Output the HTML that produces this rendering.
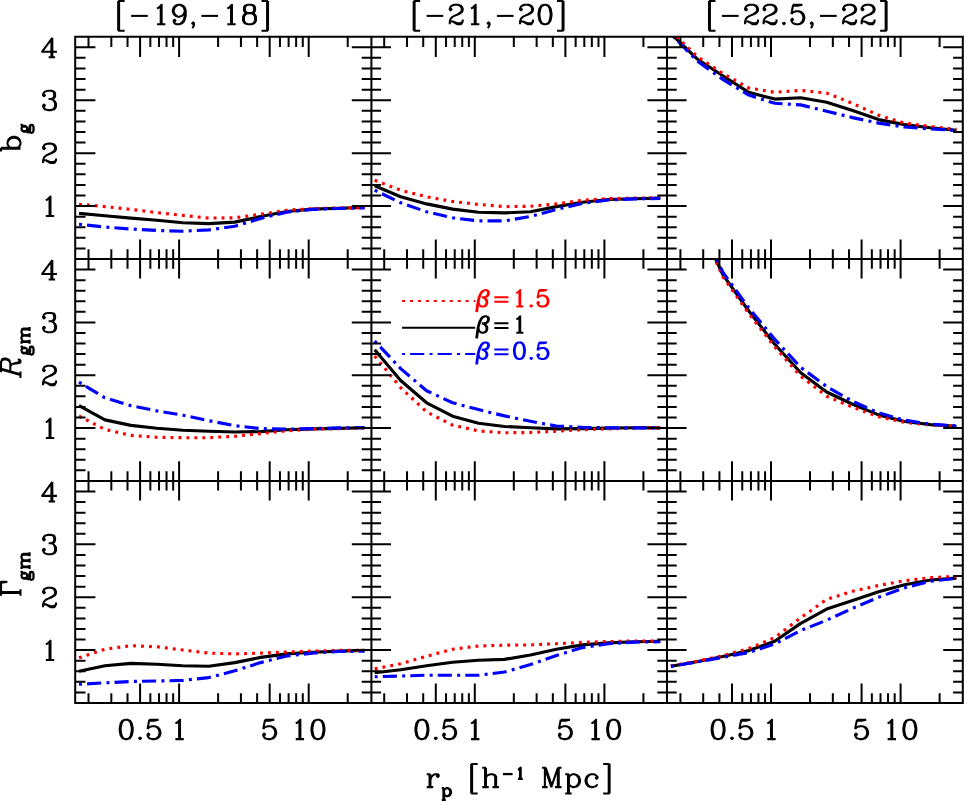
<!DOCTYPE html>
<html><head><meta charset="utf-8"><title>plot</title>
<style>html,body{margin:0;padding:0;background:#fff;font-family:"Liberation Sans",sans-serif}svg{display:block}</style>
</head><body>
<svg width="964" height="801" viewBox="0 0 964 801">
<rect width="964" height="801" fill="#fff"/>
<defs>
<path id="h2013" d="M-7 -12L-7 9M-6 -12L0 6M-7 -12L0 9M7 -12L0 9M7 -12L7 9M8 -12L8 9M-10 -12L-6 -12M7 -12L11 -12M-10 9L-4 9M4 9L11 9"/>
<path id="h2029" d="M-4 -12L-4 9M-3 -12L-3 9M-7 -12L8 -12L8 -6L7 -12M-7 9L0 9"/>
<path id="h2068" d="M-3 -12L-9 9M-2 -12L-8 9M-6 -12L5 -12L8 -11L9 -9L9 -7L8 -4L7 -3L4 -2L-5 -2M5 -12L7 -11L8 -9L8 -7L7 -4L6 -3L4 -2M0 -2L2 -1L3 0L4 8L5 9L7 9L8 7L8 6M3 0L5 7L6 8L7 8L8 7M-12 9L-5 9"/>
<path id="h2102" d="M-6 -12L-6 9M-5 -12L-5 9M-5 -2L-3 -4L-1 -5L1 -5L4 -4L6 -2L7 1L7 3L6 6L4 8L1 9L-1 9L-3 8L-5 6M1 -5L3 -4L5 -2L6 1L6 3L5 6L3 8L1 9M-9 -12L-5 -12"/>
<path id="h2103" d="M5 -2L4 -1L5 0L6 -1L6 -2L4 -4L2 -5L-1 -5L-4 -4L-6 -2L-7 1L-7 3L-6 6L-4 8L-1 9L1 9L4 8L6 6M-1 -5L-3 -4L-5 -2L-6 1L-6 3L-5 6L-3 8L-1 9"/>
<path id="h2107" d="M-1 -5L-3 -4L-4 -3L-5 -1L-5 1L-4 3L-3 4L-1 5L1 5L3 4L4 3L5 1L5 -1L4 -3L3 -4L1 -5L-1 -5M-3 -4L-4 -2L-4 2L-3 4M3 4L4 2L4 -2L3 -4M4 -3L5 -4L7 -5L7 -4L5 -4M-4 3L-5 4L-6 6L-6 7L-5 9L-2 10L3 10L6 11L7 12M-6 7L-5 8L-2 9L3 9L6 10L7 12L7 13L6 15L3 16L-3 16L-6 15L-7 13L-7 12L-6 10L-3 9"/>
<path id="h2108" d="M-6 -12L-6 9M-5 -12L-5 9M-5 -2L-3 -4L0 -5L2 -5L5 -4L6 -2L6 9M2 -5L4 -4L5 -2L5 9M-9 -12L-5 -12M-9 9L-2 9M2 9L9 9"/>
<path id="h2113" d="M-11 -5L-11 9M-10 -5L-10 9M-10 -2L-8 -4L-5 -5L-3 -5L0 -4L1 -2L1 9M-3 -5L-1 -4L0 -2L0 9M1 -2L3 -4L6 -5L8 -5L11 -4L12 -2L12 9M8 -5L10 -4L11 -2L11 9M-14 -5L-10 -5M-14 9L-7 9M-3 9L4 9M8 9L15 9"/>
<path id="h2116" d="M-6 -5L-6 16M-5 -5L-5 16M-5 -2L-3 -4L-1 -5L1 -5L4 -4L6 -2L7 1L7 3L6 6L4 8L1 9L-1 9L-3 8L-5 6M1 -5L3 -4L5 -2L6 1L6 3L5 6L3 8L1 9M-9 -5L-5 -5M-9 16L-2 16"/>
<path id="h2118" d="M-4 -5L-4 9M-3 -5L-3 9M-3 1L-2 -2L0 -4L2 -5L5 -5L6 -4L6 -3L5 -2L4 -3L5 -4M-7 -5L-3 -5M-7 9L0 9"/>
<path id="h2128" d="M2 -12L-1 -11L-3 -9L-5 -5L-6 -2L-7 2L-8 8L-9 16M2 -12L0 -11L-2 -9L-4 -5L-5 -2L-6 2L-7 8L-8 16M2 -12L4 -12L6 -11L7 -10L7 -7L6 -5L5 -4L2 -3L-2 -3M4 -12L6 -10L6 -7L5 -5L4 -4L2 -3M-2 -3L2 -2L4 0L5 2L5 5L4 7L3 8L0 9L-2 9L-4 8L-5 7L-6 4M-2 -3L1 -2L3 0L4 2L4 5L3 7L2 8L0 9"/>
<path id="h2200" d="M-1 -12L-4 -11L-6 -8L-7 -3L-7 0L-6 5L-4 8L-1 9L1 9L4 8L6 5L7 0L7 -3L6 -8L4 -11L1 -12L-1 -12M-1 -12L-3 -11L-4 -10L-5 -8L-6 -3L-6 0L-5 5L-4 7L-3 8L-1 9M1 9L3 8L4 7L5 5L6 0L6 -3L5 -8L4 -10L3 -11L1 -12"/>
<path id="h2201" d="M-4 -8L-2 -9L1 -12L1 9M0 -11L0 9M-4 9L5 9"/>
<path id="h2202" d="M-6 -8L-5 -7L-6 -6L-7 -7L-7 -8L-6 -10L-5 -11L-2 -12L2 -12L5 -11L6 -10L7 -8L7 -6L6 -4L3 -2L-2 0L-4 1L-6 3L-7 6L-7 9M2 -12L4 -11L5 -10L6 -8L6 -6L5 -4L2 -2L-2 0M-7 7L-6 6L-4 6L1 8L4 8L6 7L7 6M-4 6L1 9L5 9L6 8L7 6L7 4"/>
<path id="h2203" d="M-6 -8L-5 -7L-6 -6L-7 -7L-7 -8L-6 -10L-5 -11L-2 -12L2 -12L5 -11L6 -9L6 -6L5 -4L2 -3L-1 -3M2 -12L4 -11L5 -9L5 -6L4 -4L2 -3M2 -3L4 -2L6 0L7 2L7 5L6 7L5 8L2 9L-2 9L-5 8L-6 7L-7 5L-7 4L-6 3L-5 4L-6 5M5 -1L6 2L6 5L5 7L4 8L2 9"/>
<path id="h2204" d="M2 -10L2 9M3 -12L3 9M3 -12L-8 3L8 3M-1 9L6 9"/>
<path id="h2205" d="M-5 -12L-7 -2M-7 -2L-5 -4L-2 -5L1 -5L4 -4L6 -2L7 1L7 3L6 6L4 8L1 9L-2 9L-5 8L-6 7L-7 5L-7 4L-6 3L-5 4L-6 5M1 -5L3 -4L5 -2L6 1L6 3L5 6L3 8L1 9M-5 -12L5 -12M-5 -11L0 -11L5 -12"/>
<path id="h2208" d="M-2 -12L-5 -11L-6 -9L-6 -6L-5 -4L-2 -3L2 -3L5 -4L6 -6L6 -9L5 -11L2 -12L-2 -12M-2 -12L-4 -11L-5 -9L-5 -6L-4 -4L-2 -3M2 -3L4 -4L5 -6L5 -9L4 -11L2 -12M-2 -3L-5 -2L-6 -1L-7 1L-7 5L-6 7L-5 8L-2 9L2 9L5 8L6 7L7 5L7 1L6 -1L5 -2L2 -3M-2 -3L-4 -2L-5 -1L-6 1L-6 5L-5 7L-4 8L-2 9M2 9L4 8L5 7L6 5L6 1L5 -1L4 -2L2 -3"/>
<path id="h2209" d="M6 -5L5 -2L3 0L0 1L-1 1L-4 0L-6 -2L-7 -5L-7 -6L-6 -9L-4 -11L-1 -12L1 -12L4 -11L6 -9L7 -6L7 0L6 4L5 6L3 8L0 9L-3 9L-5 8L-6 6L-6 5L-5 4L-4 5L-5 6M-1 1L-3 0L-5 -2L-6 -5L-6 -6L-5 -9L-3 -11L-1 -12M1 -12L3 -11L5 -9L6 -6L6 0L5 4L4 6L2 8L0 9"/>
<path id="h2210" d="M0 7L-1 8L0 9L1 8L0 7"/>
<path id="h2211" d="M0 9L-1 8L0 7L1 8L1 10L0 12L-1 13"/>
<path id="h2223" d="M-3 -16L-3 16M-2 -16L-2 16M-3 -16L4 -16M-3 16L4 16"/>
<path id="h2224" d="M2 -16L2 16M3 -16L3 16M-4 -16L3 -16M-4 16L3 16"/>
<path id="h2231" d="M-9 0L9 0"/>
<path id="h2238" d="M-9 -3L9 -3M-9 3L9 3"/>
<clipPath id="c00"><rect x="75.2" y="36.7" width="296.2" height="222.3"/></clipPath>
<clipPath id="c01"><rect x="371.4" y="36.7" width="295.6" height="222.3"/></clipPath>
<clipPath id="c02"><rect x="667" y="36.7" width="295.8" height="222.3"/></clipPath>
<clipPath id="c10"><rect x="75.2" y="259" width="296.2" height="221.9"/></clipPath>
<clipPath id="c11"><rect x="371.4" y="259" width="295.6" height="221.9"/></clipPath>
<clipPath id="c12"><rect x="667" y="259" width="295.8" height="221.9"/></clipPath>
<clipPath id="c20"><rect x="75.2" y="480.9" width="296.2" height="222.1"/></clipPath>
<clipPath id="c21"><rect x="371.4" y="480.9" width="295.6" height="222.1"/></clipPath>
<clipPath id="c22"><rect x="667" y="480.9" width="295.8" height="222.1"/></clipPath>
</defs>
<g fill="none" stroke-width="3.15" stroke-linejoin="round" stroke-linecap="butt">
<g clip-path="url(#c00)"><polyline points="79,213.4 104.96,215.7 130.92,218.1 156.88,220.3 182.84,222.8 208.8,223.6 234.76,222.1 260.72,216.5 286.68,211.5 312.64,209.1 338.6,208.2 364.56,207.5" stroke="#000"/><polyline points="79,204.2 104.96,206.6 130.92,209.4 156.88,212.6 182.84,215.4 208.8,218.1 234.76,217.8 260.72,214.2 286.68,210.2 312.64,208.7 338.6,208 364.56,207.5" stroke="#f00" stroke-dasharray="2.9 5.06"/><polyline points="79,224.2 104.96,227 130.92,229 156.88,230.5 182.84,231.2 208.8,229.9 234.76,226.3 260.72,218.4 286.68,212.1 312.64,209.4 338.6,208.5 364.56,207.9" stroke="#00f" stroke-dasharray="3 5.1 14.1 5.3"/></g>
<g clip-path="url(#c01)"><polyline points="374.7,185.8 400.66,196.8 426.62,203.9 452.58,209.1 478.54,212.3 504.5,212.9 530.46,211.8 556.42,206.6 582.38,202.3 608.34,199.5 634.3,198.7 660.26,198.1" stroke="#000"/><polyline points="374.7,180.2 400.66,190.2 426.62,196.8 452.58,201.5 478.54,204.4 504.5,206.6 530.46,206.3 556.42,203.9 582.38,200.3 608.34,198.7 634.3,198.1 660.26,197.8" stroke="#f00" stroke-dasharray="2.9 5.06"/><polyline points="374.7,190.2 400.66,202.8 426.62,211.8 452.58,217.8 478.54,220.9 504.5,220.9 530.46,216.5 556.42,209.4 582.38,203.4 608.34,200 634.3,198.9 660.26,198.4" stroke="#00f" stroke-dasharray="3 5.1 14.1 5.3"/></g>
<g clip-path="url(#c02)"><polyline points="670.9,33.6 696.86,58.7 722.82,75.7 748.78,92.3 774.74,99.1 800.7,97.8 826.66,102.3 852.62,110.5 878.58,119.6 904.54,124.6 930.5,127.8 956.46,130.2" stroke="#000"/><polyline points="670.9,31 696.86,56.3 722.82,73.5 748.78,88 774.74,92.3 800.7,90.4 826.66,93.1 852.62,103.4 878.58,115.2 904.54,123.1 930.5,126.5 956.46,129.4" stroke="#f00" stroke-dasharray="2.9 5.06"/><polyline points="670.9,33.9 696.86,60.7 722.82,79.4 748.78,95.1 774.74,103.3 800.7,104.9 826.66,111.2 852.62,117.6 878.58,123.1 904.54,127 930.5,128.9 956.46,130.5" stroke="#00f" stroke-dasharray="3 5.1 14.1 5.3" stroke-dashoffset="-2.5"/></g>
<g clip-path="url(#c10)"><polyline points="79,405.7 104.96,419.9 130.92,425.4 156.88,428.3 182.84,430.2 208.8,431.3 234.76,432 260.72,431.6 286.68,429.7 312.64,428.9 338.6,428.4 364.56,427.8" stroke="#000"/><polyline points="79,416 104.96,429.4 130.92,435.4 156.88,437.3 182.84,437.7 208.8,437.7 234.76,436.3 260.72,433.6 286.68,430.8 312.64,429.2 338.6,428.6 364.56,427.9" stroke="#f00" stroke-dasharray="2.9 5.06"/><polyline points="79,382.1 104.96,397.8 130.92,405.7 156.88,410.9 182.84,415.2 208.8,420.7 234.76,425.7 260.72,428.6 286.68,429.2 312.64,428.6 338.6,427.9 364.56,427.6" stroke="#00f" stroke-dasharray="3 5.1 14.1 5.3"/></g>
<g clip-path="url(#c11)"><polyline points="374.7,349.7 400.66,380.5 426.62,402.8 452.58,416.2 478.54,423.3 504.5,426.5 530.46,427.8 556.42,428.9 582.38,428.6 608.34,428.1 634.3,427.8 660.26,427.8" stroke="#000"/><polyline points="374.7,356 400.66,387.6 426.62,412 452.58,425.1 478.54,430.9 504.5,432.8 530.46,432.5 556.42,431.2 582.38,429.7 608.34,428.9 634.3,428.1 660.26,427.8" stroke="#f00" stroke-dasharray="2.9 5.06"/><polyline points="374.7,341 400.66,368.6 426.62,390.7 452.58,402.8 478.54,409.6 504.5,415.9 530.46,421.3 556.42,426 582.38,427.3 608.34,427.8 634.3,427.8 660.26,427.8" stroke="#00f" stroke-dasharray="3 5.1 14.1 5.3"/></g>
<g clip-path="url(#c12)"><polyline points="670.9,160 696.86,218.2 722.82,274.7 748.78,311 774.74,344.3 800.7,372.8 826.66,392 852.62,404.2 878.58,414.9 904.54,421.5 930.5,424.6 956.46,426.2" stroke="#000"/><polyline points="670.9,160 696.86,219.2 722.82,276.7 748.78,313.5 774.74,346.8 800.7,376.2 826.66,396.2 852.62,407.3 878.58,416.8 904.54,422.3 930.5,425 956.46,426.2" stroke="#f00" stroke-dasharray="2.9 5.06"/><polyline points="670.9,160 696.86,216.2 722.82,272.2 748.78,307.9 774.74,339.3 800.7,367.4 826.66,386.5 852.62,401.3 878.58,412.8 904.54,420.2 930.5,424.2 956.46,425.9" stroke="#00f" stroke-dasharray="3 5.1 14.1 5.3"/></g>
<g clip-path="url(#c20)"><polyline points="79,671.2 104.96,665.7 130.92,663.4 156.88,664.2 182.84,665.7 208.8,666.2 234.76,662.6 260.72,657.4 286.68,653.9 312.64,652.3 338.6,651.1 364.56,650.4" stroke="#000"/><polyline points="79,657.8 104.96,649.2 130.92,645.7 156.88,646.8 182.84,650 208.8,653.1 234.76,653.9 260.72,653.1 286.68,652 312.64,651.1 338.6,650.4 364.56,650.4" stroke="#f00" stroke-dasharray="2.9 5.06"/><polyline points="79,684.3 104.96,682.8 130.92,681.5 156.88,681 182.84,680.4 208.8,677.6 234.76,670.8 260.72,662.6 286.68,656 312.64,653.1 338.6,651.5 364.56,651.1" stroke="#00f" stroke-dasharray="3 5.1 14.1 5.3"/></g>
<g clip-path="url(#c21)"><polyline points="374.7,672.8 400.66,669.7 426.62,665.7 452.58,662.3 478.54,660.2 504.5,659.4 530.46,655 556.42,649.2 582.38,644.9 608.34,642.9 634.3,641.8 660.26,641.3" stroke="#000"/><polyline points="374.7,668.9 400.66,663.8 426.62,656.3 452.58,649.2 478.54,646 504.5,645.2 530.46,644.9 556.42,643.7 582.38,642.4 608.34,641.6 634.3,641 660.26,641" stroke="#f00" stroke-dasharray="2.9 5.06"/><polyline points="374.7,676.8 400.66,676 426.62,675.2 452.58,675.2 478.54,675.2 504.5,672 530.46,664.6 556.42,655.5 582.38,647.6 608.34,643.7 634.3,642.1 660.26,641.8" stroke="#00f" stroke-dasharray="3 5.1 14.1 5.3"/></g>
<g clip-path="url(#c22)"><polyline points="670.9,666.3 696.86,661.7 722.82,656.5 748.78,650.6 774.74,641.2 800.7,623.4 826.66,609.1 852.62,600.5 878.58,591.8 904.54,584.7 930.5,580 956.46,578.1" stroke="#000"/><polyline points="670.9,665.9 696.86,661.2 722.82,655.7 748.78,648.6 774.74,637.6 800.7,617.8 826.66,599.4 852.62,591.3 878.58,585.5 904.54,580.7 930.5,577.6 956.46,576.5" stroke="#f00" stroke-dasharray="2.9 5.06"/><polyline points="670.9,666.4 696.86,662 722.82,657.3 748.78,652.5 774.74,643.9 800.7,630.5 826.66,620.2 852.62,608.3 878.58,597.3 904.54,587.8 930.5,581.2 956.46,578.4" stroke="#00f" stroke-dasharray="3 5.1 14.1 5.3"/></g>
</g>
<path d="M75.2 248.41h10.3M371.4 248.41h-9.7M75.2 237.83h10.3M371.4 237.83h-9.7M75.2 227.24h10.3M371.4 227.24h-9.7M75.2 216.66h10.3M371.4 216.66h-9.7M75.2 206.07h20.2M371.4 206.07h-19.6M75.2 195.49h10.3M371.4 195.49h-9.7M75.2 184.9h10.3M371.4 184.9h-9.7M75.2 174.31h10.3M371.4 174.31h-9.7M75.2 163.73h10.3M371.4 163.73h-9.7M75.2 153.14h20.2M371.4 153.14h-19.6M75.2 142.56h10.3M371.4 142.56h-9.7M75.2 131.97h10.3M371.4 131.97h-9.7M75.2 121.39h10.3M371.4 121.39h-9.7M75.2 110.8h10.3M371.4 110.8h-9.7M75.2 100.21h20.2M371.4 100.21h-19.6M75.2 89.63h10.3M371.4 89.63h-9.7M75.2 79.04h10.3M371.4 79.04h-9.7M75.2 68.46h10.3M371.4 68.46h-9.7M75.2 57.87h10.3M371.4 57.87h-9.7M75.2 47.29h20.2M371.4 47.29h-19.6M88.51 36.7v10.3M88.51 259v-9.7M111.33 36.7v10.3M111.33 259v-9.7M127.53 36.7v10.3M127.53 259v-9.7M140.09 36.7v20.2M140.09 259v-19.6M150.35 36.7v10.3M150.35 259v-9.7M159.02 36.7v10.3M159.02 259v-9.7M166.54 36.7v10.3M166.54 259v-9.7M173.17 36.7v10.3M173.17 259v-9.7M179.1 36.7v20.2M179.1 259v-19.6M218.11 36.7v10.3M218.11 259v-9.7M240.93 36.7v10.3M240.93 259v-9.7M257.13 36.7v10.3M257.13 259v-9.7M269.69 36.7v20.2M269.69 259v-19.6M279.95 36.7v10.3M279.95 259v-9.7M288.62 36.7v10.3M288.62 259v-9.7M296.14 36.7v10.3M296.14 259v-9.7M302.77 36.7v10.3M302.77 259v-9.7M308.7 36.7v20.2M308.7 259v-19.6M347.71 36.7v10.3M347.71 259v-9.7M371.4 248.41h9.7M667 248.41h-9.7M371.4 237.83h9.7M667 237.83h-9.7M371.4 227.24h9.7M667 227.24h-9.7M371.4 216.66h9.7M667 216.66h-9.7M371.4 206.07h19.6M667 206.07h-19.6M371.4 195.49h9.7M667 195.49h-9.7M371.4 184.9h9.7M667 184.9h-9.7M371.4 174.31h9.7M667 174.31h-9.7M371.4 163.73h9.7M667 163.73h-9.7M371.4 153.14h19.6M667 153.14h-19.6M371.4 142.56h9.7M667 142.56h-9.7M371.4 131.97h9.7M667 131.97h-9.7M371.4 121.39h9.7M667 121.39h-9.7M371.4 110.8h9.7M667 110.8h-9.7M371.4 100.21h19.6M667 100.21h-19.6M371.4 89.63h9.7M667 89.63h-9.7M371.4 79.04h9.7M667 79.04h-9.7M371.4 68.46h9.7M667 68.46h-9.7M371.4 57.87h9.7M667 57.87h-9.7M371.4 47.29h19.6M667 47.29h-19.6M384.21 36.7v10.3M384.21 259v-9.7M407.03 36.7v10.3M407.03 259v-9.7M423.23 36.7v10.3M423.23 259v-9.7M435.79 36.7v20.2M435.79 259v-19.6M446.05 36.7v10.3M446.05 259v-9.7M454.72 36.7v10.3M454.72 259v-9.7M462.24 36.7v10.3M462.24 259v-9.7M468.87 36.7v10.3M468.87 259v-9.7M474.8 36.7v20.2M474.8 259v-19.6M513.81 36.7v10.3M513.81 259v-9.7M536.63 36.7v10.3M536.63 259v-9.7M552.83 36.7v10.3M552.83 259v-9.7M565.39 36.7v20.2M565.39 259v-19.6M575.65 36.7v10.3M575.65 259v-9.7M584.32 36.7v10.3M584.32 259v-9.7M591.84 36.7v10.3M591.84 259v-9.7M598.47 36.7v10.3M598.47 259v-9.7M604.4 36.7v20.2M604.4 259v-19.6M643.41 36.7v10.3M643.41 259v-9.7M667 248.41h9.7M962.8 248.41h-9.7M667 237.83h9.7M962.8 237.83h-9.7M667 227.24h9.7M962.8 227.24h-9.7M667 216.66h9.7M962.8 216.66h-9.7M667 206.07h19.6M962.8 206.07h-19.6M667 195.49h9.7M962.8 195.49h-9.7M667 184.9h9.7M962.8 184.9h-9.7M667 174.31h9.7M962.8 174.31h-9.7M667 163.73h9.7M962.8 163.73h-9.7M667 153.14h19.6M962.8 153.14h-19.6M667 142.56h9.7M962.8 142.56h-9.7M667 131.97h9.7M962.8 131.97h-9.7M667 121.39h9.7M962.8 121.39h-9.7M667 110.8h9.7M962.8 110.8h-9.7M667 100.21h19.6M962.8 100.21h-19.6M667 89.63h9.7M962.8 89.63h-9.7M667 79.04h9.7M962.8 79.04h-9.7M667 68.46h9.7M962.8 68.46h-9.7M667 57.87h9.7M962.8 57.87h-9.7M667 47.29h19.6M962.8 47.29h-19.6M680.41 36.7v10.3M680.41 259v-9.7M703.23 36.7v10.3M703.23 259v-9.7M719.43 36.7v10.3M719.43 259v-9.7M731.99 36.7v20.2M731.99 259v-19.6M742.25 36.7v10.3M742.25 259v-9.7M750.92 36.7v10.3M750.92 259v-9.7M758.44 36.7v10.3M758.44 259v-9.7M765.07 36.7v10.3M765.07 259v-9.7M771 36.7v20.2M771 259v-19.6M810.01 36.7v10.3M810.01 259v-9.7M832.83 36.7v10.3M832.83 259v-9.7M849.03 36.7v10.3M849.03 259v-9.7M861.59 36.7v20.2M861.59 259v-19.6M871.85 36.7v10.3M871.85 259v-9.7M880.52 36.7v10.3M880.52 259v-9.7M888.04 36.7v10.3M888.04 259v-9.7M894.67 36.7v10.3M894.67 259v-9.7M900.6 36.7v20.2M900.6 259v-19.6M939.61 36.7v10.3M939.61 259v-9.7M75.2 470.33h10.3M371.4 470.33h-9.7M75.2 459.77h10.3M371.4 459.77h-9.7M75.2 449.2h10.3M371.4 449.2h-9.7M75.2 438.63h10.3M371.4 438.63h-9.7M75.2 428.07h20.2M371.4 428.07h-19.6M75.2 417.5h10.3M371.4 417.5h-9.7M75.2 406.93h10.3M371.4 406.93h-9.7M75.2 396.37h10.3M371.4 396.37h-9.7M75.2 385.8h10.3M371.4 385.8h-9.7M75.2 375.23h20.2M371.4 375.23h-19.6M75.2 364.67h10.3M371.4 364.67h-9.7M75.2 354.1h10.3M371.4 354.1h-9.7M75.2 343.53h10.3M371.4 343.53h-9.7M75.2 332.97h10.3M371.4 332.97h-9.7M75.2 322.4h20.2M371.4 322.4h-19.6M75.2 311.83h10.3M371.4 311.83h-9.7M75.2 301.27h10.3M371.4 301.27h-9.7M75.2 290.7h10.3M371.4 290.7h-9.7M75.2 280.13h10.3M371.4 280.13h-9.7M75.2 269.57h20.2M371.4 269.57h-19.6M88.51 259v9.7M88.51 480.9v-9.7M111.33 259v9.7M111.33 480.9v-9.7M127.53 259v9.7M127.53 480.9v-9.7M140.09 259v19.6M140.09 480.9v-19.6M150.35 259v9.7M150.35 480.9v-9.7M159.02 259v9.7M159.02 480.9v-9.7M166.54 259v9.7M166.54 480.9v-9.7M173.17 259v9.7M173.17 480.9v-9.7M179.1 259v19.6M179.1 480.9v-19.6M218.11 259v9.7M218.11 480.9v-9.7M240.93 259v9.7M240.93 480.9v-9.7M257.13 259v9.7M257.13 480.9v-9.7M269.69 259v19.6M269.69 480.9v-19.6M279.95 259v9.7M279.95 480.9v-9.7M288.62 259v9.7M288.62 480.9v-9.7M296.14 259v9.7M296.14 480.9v-9.7M302.77 259v9.7M302.77 480.9v-9.7M308.7 259v19.6M308.7 480.9v-19.6M347.71 259v9.7M347.71 480.9v-9.7M371.4 470.33h9.7M667 470.33h-9.7M371.4 459.77h9.7M667 459.77h-9.7M371.4 449.2h9.7M667 449.2h-9.7M371.4 438.63h9.7M667 438.63h-9.7M371.4 428.07h19.6M667 428.07h-19.6M371.4 417.5h9.7M667 417.5h-9.7M371.4 406.93h9.7M667 406.93h-9.7M371.4 396.37h9.7M667 396.37h-9.7M371.4 385.8h9.7M667 385.8h-9.7M371.4 375.23h19.6M667 375.23h-19.6M371.4 364.67h9.7M667 364.67h-9.7M371.4 354.1h9.7M667 354.1h-9.7M371.4 343.53h9.7M667 343.53h-9.7M371.4 332.97h9.7M667 332.97h-9.7M371.4 322.4h19.6M667 322.4h-19.6M371.4 311.83h9.7M667 311.83h-9.7M371.4 301.27h9.7M667 301.27h-9.7M371.4 290.7h9.7M667 290.7h-9.7M371.4 280.13h9.7M667 280.13h-9.7M371.4 269.57h19.6M667 269.57h-19.6M384.21 259v9.7M384.21 480.9v-9.7M407.03 259v9.7M407.03 480.9v-9.7M423.23 259v9.7M423.23 480.9v-9.7M435.79 259v19.6M435.79 480.9v-19.6M446.05 259v9.7M446.05 480.9v-9.7M454.72 259v9.7M454.72 480.9v-9.7M462.24 259v9.7M462.24 480.9v-9.7M468.87 259v9.7M468.87 480.9v-9.7M474.8 259v19.6M474.8 480.9v-19.6M513.81 259v9.7M513.81 480.9v-9.7M536.63 259v9.7M536.63 480.9v-9.7M552.83 259v9.7M552.83 480.9v-9.7M565.39 259v19.6M565.39 480.9v-19.6M575.65 259v9.7M575.65 480.9v-9.7M584.32 259v9.7M584.32 480.9v-9.7M591.84 259v9.7M591.84 480.9v-9.7M598.47 259v9.7M598.47 480.9v-9.7M604.4 259v19.6M604.4 480.9v-19.6M643.41 259v9.7M643.41 480.9v-9.7M667 470.33h9.7M962.8 470.33h-9.7M667 459.77h9.7M962.8 459.77h-9.7M667 449.2h9.7M962.8 449.2h-9.7M667 438.63h9.7M962.8 438.63h-9.7M667 428.07h19.6M962.8 428.07h-19.6M667 417.5h9.7M962.8 417.5h-9.7M667 406.93h9.7M962.8 406.93h-9.7M667 396.37h9.7M962.8 396.37h-9.7M667 385.8h9.7M962.8 385.8h-9.7M667 375.23h19.6M962.8 375.23h-19.6M667 364.67h9.7M962.8 364.67h-9.7M667 354.1h9.7M962.8 354.1h-9.7M667 343.53h9.7M962.8 343.53h-9.7M667 332.97h9.7M962.8 332.97h-9.7M667 322.4h19.6M962.8 322.4h-19.6M667 311.83h9.7M962.8 311.83h-9.7M667 301.27h9.7M962.8 301.27h-9.7M667 290.7h9.7M962.8 290.7h-9.7M667 280.13h9.7M962.8 280.13h-9.7M667 269.57h19.6M962.8 269.57h-19.6M680.41 259v9.7M680.41 480.9v-9.7M703.23 259v9.7M703.23 480.9v-9.7M719.43 259v9.7M719.43 480.9v-9.7M731.99 259v19.6M731.99 480.9v-19.6M742.25 259v9.7M742.25 480.9v-9.7M750.92 259v9.7M750.92 480.9v-9.7M758.44 259v9.7M758.44 480.9v-9.7M765.07 259v9.7M765.07 480.9v-9.7M771 259v19.6M771 480.9v-19.6M810.01 259v9.7M810.01 480.9v-9.7M832.83 259v9.7M832.83 480.9v-9.7M849.03 259v9.7M849.03 480.9v-9.7M861.59 259v19.6M861.59 480.9v-19.6M871.85 259v9.7M871.85 480.9v-9.7M880.52 259v9.7M880.52 480.9v-9.7M888.04 259v9.7M888.04 480.9v-9.7M894.67 259v9.7M894.67 480.9v-9.7M900.6 259v19.6M900.6 480.9v-19.6M939.61 259v9.7M939.61 480.9v-9.7M75.2 692.42h10.3M371.4 692.42h-9.7M75.2 681.85h10.3M371.4 681.85h-9.7M75.2 671.27h10.3M371.4 671.27h-9.7M75.2 660.7h10.3M371.4 660.7h-9.7M75.2 650.12h20.2M371.4 650.12h-19.6M75.2 639.54h10.3M371.4 639.54h-9.7M75.2 628.97h10.3M371.4 628.97h-9.7M75.2 618.39h10.3M371.4 618.39h-9.7M75.2 607.81h10.3M371.4 607.81h-9.7M75.2 597.24h20.2M371.4 597.24h-19.6M75.2 586.66h10.3M371.4 586.66h-9.7M75.2 576.09h10.3M371.4 576.09h-9.7M75.2 565.51h10.3M371.4 565.51h-9.7M75.2 554.93h10.3M371.4 554.93h-9.7M75.2 544.36h20.2M371.4 544.36h-19.6M75.2 533.78h10.3M371.4 533.78h-9.7M75.2 523.2h10.3M371.4 523.2h-9.7M75.2 512.63h10.3M371.4 512.63h-9.7M75.2 502.05h10.3M371.4 502.05h-9.7M75.2 491.48h20.2M371.4 491.48h-19.6M88.51 480.9v9.7M88.51 703v-9.7M111.33 480.9v9.7M111.33 703v-9.7M127.53 480.9v9.7M127.53 703v-9.7M140.09 480.9v19.6M140.09 703v-19.6M150.35 480.9v9.7M150.35 703v-9.7M159.02 480.9v9.7M159.02 703v-9.7M166.54 480.9v9.7M166.54 703v-9.7M173.17 480.9v9.7M173.17 703v-9.7M179.1 480.9v19.6M179.1 703v-19.6M218.11 480.9v9.7M218.11 703v-9.7M240.93 480.9v9.7M240.93 703v-9.7M257.13 480.9v9.7M257.13 703v-9.7M269.69 480.9v19.6M269.69 703v-19.6M279.95 480.9v9.7M279.95 703v-9.7M288.62 480.9v9.7M288.62 703v-9.7M296.14 480.9v9.7M296.14 703v-9.7M302.77 480.9v9.7M302.77 703v-9.7M308.7 480.9v19.6M308.7 703v-19.6M347.71 480.9v9.7M347.71 703v-9.7M371.4 692.42h9.7M667 692.42h-9.7M371.4 681.85h9.7M667 681.85h-9.7M371.4 671.27h9.7M667 671.27h-9.7M371.4 660.7h9.7M667 660.7h-9.7M371.4 650.12h19.6M667 650.12h-19.6M371.4 639.54h9.7M667 639.54h-9.7M371.4 628.97h9.7M667 628.97h-9.7M371.4 618.39h9.7M667 618.39h-9.7M371.4 607.81h9.7M667 607.81h-9.7M371.4 597.24h19.6M667 597.24h-19.6M371.4 586.66h9.7M667 586.66h-9.7M371.4 576.09h9.7M667 576.09h-9.7M371.4 565.51h9.7M667 565.51h-9.7M371.4 554.93h9.7M667 554.93h-9.7M371.4 544.36h19.6M667 544.36h-19.6M371.4 533.78h9.7M667 533.78h-9.7M371.4 523.2h9.7M667 523.2h-9.7M371.4 512.63h9.7M667 512.63h-9.7M371.4 502.05h9.7M667 502.05h-9.7M371.4 491.48h19.6M667 491.48h-19.6M384.21 480.9v9.7M384.21 703v-9.7M407.03 480.9v9.7M407.03 703v-9.7M423.23 480.9v9.7M423.23 703v-9.7M435.79 480.9v19.6M435.79 703v-19.6M446.05 480.9v9.7M446.05 703v-9.7M454.72 480.9v9.7M454.72 703v-9.7M462.24 480.9v9.7M462.24 703v-9.7M468.87 480.9v9.7M468.87 703v-9.7M474.8 480.9v19.6M474.8 703v-19.6M513.81 480.9v9.7M513.81 703v-9.7M536.63 480.9v9.7M536.63 703v-9.7M552.83 480.9v9.7M552.83 703v-9.7M565.39 480.9v19.6M565.39 703v-19.6M575.65 480.9v9.7M575.65 703v-9.7M584.32 480.9v9.7M584.32 703v-9.7M591.84 480.9v9.7M591.84 703v-9.7M598.47 480.9v9.7M598.47 703v-9.7M604.4 480.9v19.6M604.4 703v-19.6M643.41 480.9v9.7M643.41 703v-9.7M667 692.42h9.7M962.8 692.42h-9.7M667 681.85h9.7M962.8 681.85h-9.7M667 671.27h9.7M962.8 671.27h-9.7M667 660.7h9.7M962.8 660.7h-9.7M667 650.12h19.6M962.8 650.12h-19.6M667 639.54h9.7M962.8 639.54h-9.7M667 628.97h9.7M962.8 628.97h-9.7M667 618.39h9.7M962.8 618.39h-9.7M667 607.81h9.7M962.8 607.81h-9.7M667 597.24h19.6M962.8 597.24h-19.6M667 586.66h9.7M962.8 586.66h-9.7M667 576.09h9.7M962.8 576.09h-9.7M667 565.51h9.7M962.8 565.51h-9.7M667 554.93h9.7M962.8 554.93h-9.7M667 544.36h19.6M962.8 544.36h-19.6M667 533.78h9.7M962.8 533.78h-9.7M667 523.2h9.7M962.8 523.2h-9.7M667 512.63h9.7M962.8 512.63h-9.7M667 502.05h9.7M962.8 502.05h-9.7M667 491.48h19.6M962.8 491.48h-19.6M680.41 480.9v9.7M680.41 703v-9.7M703.23 480.9v9.7M703.23 703v-9.7M719.43 480.9v9.7M719.43 703v-9.7M731.99 480.9v19.6M731.99 703v-19.6M742.25 480.9v9.7M742.25 703v-9.7M750.92 480.9v9.7M750.92 703v-9.7M758.44 480.9v9.7M758.44 703v-9.7M765.07 480.9v9.7M765.07 703v-9.7M771 480.9v19.6M771 703v-19.6M810.01 480.9v9.7M810.01 703v-9.7M832.83 480.9v9.7M832.83 703v-9.7M849.03 480.9v9.7M849.03 703v-9.7M861.59 480.9v19.6M861.59 703v-19.6M871.85 480.9v9.7M871.85 703v-9.7M880.52 480.9v9.7M880.52 703v-9.7M888.04 480.9v9.7M888.04 703v-9.7M894.67 480.9v9.7M894.67 703v-9.7M900.6 480.9v19.6M900.6 703v-19.6M939.61 480.9v9.7M939.61 703v-9.7" fill="none" stroke="#000" stroke-width="2" stroke-linecap="butt"/>
<path d="M75.2 35.7V704M371.4 35.7V704M667 35.7V704M962.8 35.7V704M74.2 36.7H963.8M74.2 259H963.8M74.2 480.9H963.8M74.2 703H963.8" fill="none" stroke="#000" stroke-width="2" stroke-linecap="butt"/>
<g fill="none" stroke-linecap="butt" stroke-linejoin="round">
<g transform="translate(193.1 15.9) scale(0.9250)" stroke="#000" stroke-width="2.216"><use href="#h2223" x="-78"/><use href="#h2231" x="-58"/><use href="#h2201" x="-35"/><use href="#h2209" x="-15"/><use href="#h2211" x="0"/><use href="#h2231" x="18"/><use href="#h2201" x="41"/><use href="#h2208" x="61"/><use href="#h2224" x="78"/></g>
<g transform="translate(488.6 15.9) scale(0.9250)" stroke="#000" stroke-width="2.216"><use href="#h2223" x="-78"/><use href="#h2231" x="-58"/><use href="#h2202" x="-35"/><use href="#h2201" x="-15"/><use href="#h2211" x="0"/><use href="#h2231" x="18"/><use href="#h2202" x="41"/><use href="#h2200" x="61"/><use href="#h2224" x="78"/></g>
<g transform="translate(797.8 15.9) scale(0.9250)" stroke="#000" stroke-width="2.216"><use href="#h2223" x="-93"/><use href="#h2231" x="-73"/><use href="#h2202" x="-50"/><use href="#h2202" x="-30"/><use href="#h2210" x="-15"/><use href="#h2205" x="0"/><use href="#h2211" x="15"/><use href="#h2231" x="33"/><use href="#h2202" x="56"/><use href="#h2202" x="76"/><use href="#h2224" x="93"/></g>
<g transform="translate(58.8 207.67) scale(0.9250)" stroke="#000" stroke-width="2.216"><use href="#h2201" x="-10"/></g>
<g transform="translate(58.8 154.74) scale(0.9250)" stroke="#000" stroke-width="2.216"><use href="#h2202" x="-10"/></g>
<g transform="translate(58.8 101.81) scale(0.9250)" stroke="#000" stroke-width="2.216"><use href="#h2203" x="-10"/></g>
<g transform="translate(58.8 48.89) scale(0.9250)" stroke="#000" stroke-width="2.216"><use href="#h2204" x="-10"/></g>
<g transform="translate(58.8 429.67) scale(0.9250)" stroke="#000" stroke-width="2.216"><use href="#h2201" x="-10"/></g>
<g transform="translate(58.8 376.83) scale(0.9250)" stroke="#000" stroke-width="2.216"><use href="#h2202" x="-10"/></g>
<g transform="translate(58.8 324) scale(0.9250)" stroke="#000" stroke-width="2.216"><use href="#h2203" x="-10"/></g>
<g transform="translate(58.8 271.17) scale(0.9250)" stroke="#000" stroke-width="2.216"><use href="#h2204" x="-10"/></g>
<g transform="translate(58.8 651.72) scale(0.9250)" stroke="#000" stroke-width="2.216"><use href="#h2201" x="-10"/></g>
<g transform="translate(58.8 598.84) scale(0.9250)" stroke="#000" stroke-width="2.216"><use href="#h2202" x="-10"/></g>
<g transform="translate(58.8 545.96) scale(0.9250)" stroke="#000" stroke-width="2.216"><use href="#h2203" x="-10"/></g>
<g transform="translate(58.8 493.08) scale(0.9250)" stroke="#000" stroke-width="2.216"><use href="#h2204" x="-10"/></g>
<g transform="translate(140.09 730.8) scale(0.9250)" stroke="#000" stroke-width="2.216"><use href="#h2200" x="-15"/><use href="#h2210" x="0"/><use href="#h2205" x="15"/></g>
<g transform="translate(179.1 730.8) scale(0.9250)" stroke="#000" stroke-width="2.216"><use href="#h2201" x="0"/></g>
<g transform="translate(269.69 730.8) scale(0.9250)" stroke="#000" stroke-width="2.216"><use href="#h2205" x="0"/></g>
<g transform="translate(308.7 730.8) scale(0.9250)" stroke="#000" stroke-width="2.216"><use href="#h2201" x="-10"/><use href="#h2200" x="10"/></g>
<g transform="translate(435.79 730.8) scale(0.9250)" stroke="#000" stroke-width="2.216"><use href="#h2200" x="-15"/><use href="#h2210" x="0"/><use href="#h2205" x="15"/></g>
<g transform="translate(474.8 730.8) scale(0.9250)" stroke="#000" stroke-width="2.216"><use href="#h2201" x="0"/></g>
<g transform="translate(565.39 730.8) scale(0.9250)" stroke="#000" stroke-width="2.216"><use href="#h2205" x="0"/></g>
<g transform="translate(604.4 730.8) scale(0.9250)" stroke="#000" stroke-width="2.216"><use href="#h2201" x="-10"/><use href="#h2200" x="10"/></g>
<g transform="translate(731.99 730.8) scale(0.9250)" stroke="#000" stroke-width="2.216"><use href="#h2200" x="-15"/><use href="#h2210" x="0"/><use href="#h2205" x="15"/></g>
<g transform="translate(771 730.8) scale(0.9250)" stroke="#000" stroke-width="2.216"><use href="#h2201" x="0"/></g>
<g transform="translate(861.59 730.8) scale(0.9250)" stroke="#000" stroke-width="2.216"><use href="#h2205" x="0"/></g>
<g transform="translate(900.6 730.8) scale(0.9250)" stroke="#000" stroke-width="2.216"><use href="#h2201" x="-10"/><use href="#h2200" x="10"/></g>
<g transform="translate(424.9 778.8) scale(0.9250)" stroke="#000" stroke-width="2.216"><use href="#h2118" x="9"/><use href="#h2116" transform="translate(23.82 13.2) scale(0.62)" stroke-width="3.932"/><use href="#h2223" x="53.02"/><use href="#h2108" x="71.02"/><use href="#h2231" transform="translate(89.56 -5.1) scale(0.58)" stroke-width="4.203"/><use href="#h2201" transform="translate(102.9 -5.1) scale(0.58)" stroke-width="4.203"/><use href="#h2013" x="136.7"/><use href="#h2116" x="160.7"/><use href="#h2103" x="180.7"/><use href="#h2224" x="196.7"/></g>
<g transform="translate(12.15 153.4) rotate(-90) scale(0.9250)" stroke="#000" stroke-width="2.216"><use href="#h2102" x="11"/><use href="#h2107" transform="translate(26.58 13.2) scale(0.62)" stroke-width="3.932"/></g>
<g transform="translate(12.15 377.9) rotate(-90) scale(0.9250)" stroke="#000" stroke-width="2.216"><use href="#h2068" x="12"/><use href="#h2107" transform="translate(29.58 13.2) scale(0.62)" stroke-width="3.932"/><use href="#h2113" transform="translate(45.7 13.2) scale(0.62)" stroke-width="3.932"/></g>
<g transform="translate(12.15 597.6) rotate(-90) scale(0.9250)" stroke="#000" stroke-width="2.216"><use href="#h2029" x="9"/><use href="#h2107" transform="translate(23.58 13.2) scale(0.62)" stroke-width="3.932"/><use href="#h2113" transform="translate(39.7 13.2) scale(0.62)" stroke-width="3.932"/></g>
</g>
<g>
<path d="M402.05 301.1H475.2" stroke="#f00" stroke-width="2" fill="none" stroke-dasharray="2.9 5.06"/>
<path d="M402.05 327.7H475.2" stroke="#000" stroke-width="2" fill="none"/>
<path d="M402.05 354.1H475.2" stroke="#00f" stroke-width="2" fill="none" stroke-dasharray="3 5.1 14.1 5.3"/>
</g>
<g fill="none" stroke-linecap="butt" stroke-linejoin="round">
<g transform="translate(474.7 299.5) scale(0.7850)" stroke="#f00" stroke-width="2.548"><use href="#h2128" x="11"/><use href="#h2238" x="34"/><use href="#h2201" x="57"/><use href="#h2210" x="72"/><use href="#h2205" x="87"/></g>
<g transform="translate(474.7 325.7) scale(0.7850)" stroke="#000" stroke-width="2.548"><use href="#h2128" x="11"/><use href="#h2238" x="34"/><use href="#h2201" x="57"/></g>
<g transform="translate(474.7 351.9) scale(0.7850)" stroke="#00f" stroke-width="2.548"><use href="#h2128" x="11"/><use href="#h2238" x="34"/><use href="#h2200" x="57"/><use href="#h2210" x="72"/><use href="#h2205" x="87"/></g>
</g>
</svg>
</body></html>
